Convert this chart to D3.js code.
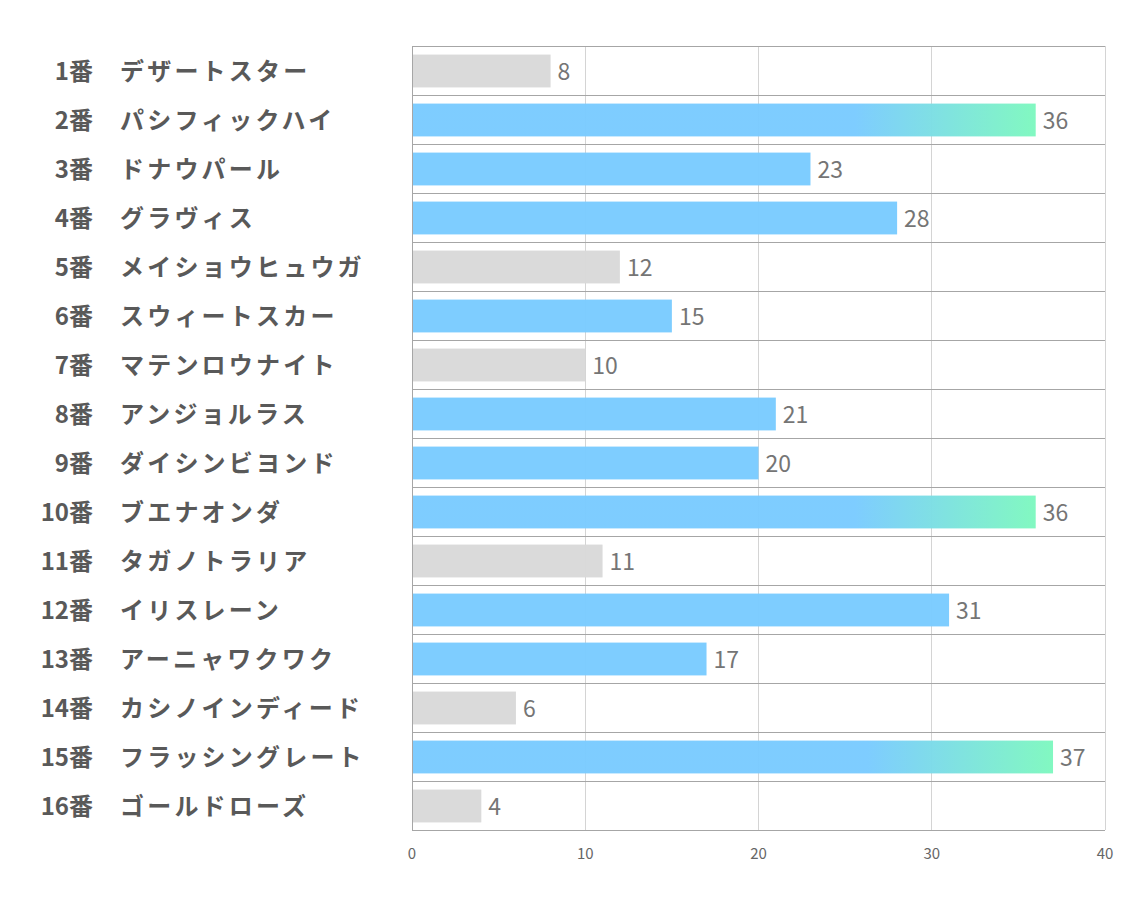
<!DOCTYPE html>
<html>
<head>
<meta charset="UTF-8">
<style>
  body { margin: 0; background: #fff; }
  svg text { font-family: 'Noto Sans CJK JP', 'Noto Sans', sans-serif; }
</style>
</head>
<body>
<div id="chart"></div>
<script src="https://cdn.jsdelivr.net/npm/d3@7"></script>
<script>
// horse numbers, names and values
const numbers = ["1番","2番","3番","4番","5番","6番","7番","8番","9番","10番","11番","12番","13番","14番","15番","16番"];
const names = ["デザートスター","パシフィックハイ","ドナウパール","グラヴィス","メイショウヒュウガ","スウィートスカー","マテンロウナイト","アンジョルラス","ダイシンビヨンド","ブエナオンダ","タガノトラリア","イリスレーン","アーニャワクワク","カシノインディード","フラッシングレート","ゴールドローズ"];
const values = [8, 36, 23, 28, 12, 15, 10, 21, 20, 36, 11, 31, 17, 6, 37, 4];
// 0 = gray, 1 = blue, 2 = blue->green
const kinds = [0, 2, 1, 1, 0, 1, 0, 1, 1, 2, 0, 1, 1, 0, 2, 0];
const xTicks = [0, 10, 20, 30, 40];

const width = 1134, height = 907;
const plotL = 412, plotR = 1105, plotT = 46, plotB = 830;

const svg = d3.select("#chart").append("svg")
  .attr("width", width)
  .attr("height", height);

const x = d3.scaleLinear().domain([0, 40]).range([plotL, plotR]);
const y = d3.scaleBand().domain(d3.range(values.length)).range([plotT, plotB]).paddingInner(0.33).paddingOuter(0.165);
const rowY = d3.scaleBand().domain(d3.range(values.length)).range([plotT, plotB]);

const defs = svg.append("defs");
const grad = defs.append("linearGradient").attr("id", "grad")
  .attr("x1", "0").attr("x2", "1").attr("y1", "0").attr("y2", "0");
grad.append("stop").attr("offset", "0.71").attr("stop-color", "#7ACBFF");
grad.append("stop").attr("offset", "1").attr("stop-color", "#7EF8BF");

// vertical gridlines
svg.append("g").selectAll("line")
  .data(xTicks.slice(1))
  .join("line")
  .attr("x1", d => x(d)).attr("x2", d => x(d))
  .attr("y1", plotT).attr("y2", plotB)
  .attr("stroke", "#d4d4d4").attr("stroke-width", 1)
  .attr("shape-rendering", "crispEdges");

// bars
svg.append("g").selectAll("rect")
  .data(values)
  .join("rect")
  .attr("x", x(0))
  .attr("y", (d, i) => y(i) + 0.5)
  .attr("width", d => x(d) - x(0))
  .attr("height", y.bandwidth())
  .attr("fill", (d, i) => kinds[i] === 0 ? "#D9D9D9" : kinds[i] === 1 ? "#7ACBFF" : "url(#grad)")
  .attr("opacity", 0.97);

// row separators
svg.append("g").selectAll("line")
  .data(d3.range(values.length + 1))
  .join("line")
  .attr("x1", plotL).attr("x2", plotR)
  .attr("y1", i => i < values.length ? rowY(i) : plotB)
  .attr("y2", i => i < values.length ? rowY(i) : plotB)
  .attr("stroke", "#a6a6a6").attr("stroke-width", 1)
  .attr("shape-rendering", "crispEdges");

// left axis line
svg.append("line")
  .attr("x1", plotL).attr("x2", plotL).attr("y1", plotT).attr("y2", plotB)
  .attr("stroke", "#a6a6a6").attr("shape-rendering", "crispEdges");

// value labels
svg.append("g").selectAll("text")
  .data(values)
  .join("text")
  .attr("x", d => x(d) + 7)
  .attr("y", (d, i) => y(i) + y.bandwidth() / 2 + 1)
  .attr("dy", "0.36em")
  .attr("font-size", 23)
  .attr("fill", "#757575")
  .text(d => d);

// x tick labels
svg.append("g").selectAll("text")
  .data(xTicks)
  .join("text")
  .attr("x", d => x(d))
  .attr("y", 854)
  .attr("dy", "0.35em")
  .attr("text-anchor", "middle")
  .attr("font-size", 15)
  .attr("fill", "#666666")
  .text(d => d);

// y labels
const yl = svg.append("g");
yl.selectAll("text.num")
  .data(numbers)
  .join("text")
  .attr("class", "num")
  .attr("x", 93)
  .attr("y", (d, i) => rowY(i) + rowY.bandwidth() / 2 + 1)
  .attr("dy", "0.36em")
  .attr("text-anchor", "end")
  .attr("font-size", 24)
  .attr("font-weight", "bold")
  .attr("fill", "#595959")
  .text(d => d);
yl.selectAll("text.name")
  .data(names)
  .join("text")
  .attr("class", "name")
  .attr("x", 120)
  .attr("y", (d, i) => rowY(i) + rowY.bandwidth() / 2 + 1)
  .attr("dy", "0.36em")
  .attr("font-size", 24)
  .attr("font-weight", "bold")
  .attr("letter-spacing", 3.2)
  .attr("fill", "#595959")
  .text(d => d);
</script>
</body>
</html>
